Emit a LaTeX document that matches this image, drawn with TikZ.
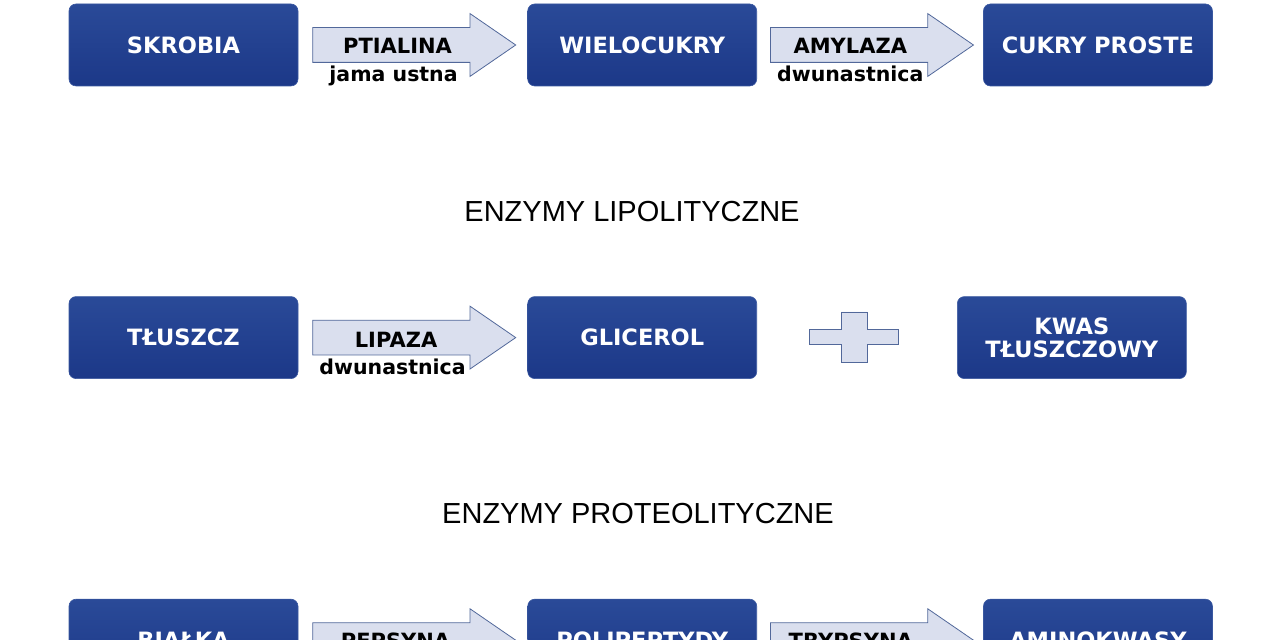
\documentclass[tikz,border=0pt]{standalone}
\usepackage{fontspec}
\setmainfont{Liberation Sans}
\newfontfamily\boxfont{DejaVu Sans}
\usetikzlibrary{positioning,shapes.arrows}
\definecolor{boxtop}{RGB}{42,74,152}
\definecolor{boxbot}{RGB}{28,56,136}
\definecolor{boxedge}{RGB}{58,88,160}
\definecolor{arrowfill}{RGB}{218,223,238}
\definecolor{arrowedge}{RGB}{82,104,154}

\tikzset{
  substrate/.style={rounded corners=7pt, draw=boxedge, line width=0.6pt,
    top color=boxtop, bottom color=boxbot, minimum width=229pt, minimum height=82pt,
    text=white, align=center, font=\boxfont\bfseries\fontsize{22.5}{23}\selectfont},
  flow/.style={single arrow, draw=arrowedge, fill=arrowfill, line width=0.8pt,
    text height=0pt, text depth=0pt, inner xsep=0pt, inner ysep=17pt,
    minimum height=203pt, minimum width=62pt,
    single arrow head extend=14pt, single arrow tip angle=69},
  enzyme/.style={font=\boxfont\bfseries\fontsize{21}{22}\selectfont, inner sep=0pt},
  place/.style={font=\boxfont\bfseries\fontsize{20.5}{22}\selectfont, inner sep=0pt},
  heading/.style={font=\fontsize{29}{32}\selectfont}
}

\begin{document}
\begin{tikzpicture}[x=1pt, y=1pt]
    \clip (0,0) rectangle (1280,640);
    % Row 1: carbohydrates
    \node[substrate] (skrobia) at (183.5,595) {SKROBIA};
    \node[flow, right=14pt of skrobia] (ptialina) {};
    \node[substrate, right=11pt of ptialina] (wielocukry) {WIELOCUKRY};
    \node[flow, right=13pt of wielocukry] (amylaza) {};
    \node[substrate, right=9pt of amylaza] (cukry) {CUKRY PROSTE};
    \node[enzyme] at ([xshift=-4pt, yshift=-1pt]ptialina.center) {PTIALINA};
    \node[place] at ([xshift=-8pt, yshift=-31pt]ptialina.center) {jama ustna};
    \node[enzyme] at ([xshift=-9pt, yshift=-1pt]amylaza.center) {AMYLAZA};
    \node[place] at ([xshift=-9pt, yshift=-29pt]amylaza.center) {dwunastnica};
    % Row 2: fats
    \node[heading] (lipo) at (632,428) {ENZYMY LIPOLITYCZNE};
    \node[substrate, below=210pt of skrobia] (tluszcz) {TŁUSZCZ};
    \node[flow, right=14pt of tluszcz] (lipaza) {};
    \node[substrate, right=11pt of lipaza] (glicerol) {GLICEROL};
    \node[substrate, right=200pt of glicerol] (kwas) {KWAS\\TŁUSZCZOWY};
    \node[enzyme] at ([xshift=-5.5pt, yshift=-2pt]lipaza.center) {LIPAZA};
    \node[place] at ([xshift=-9pt, yshift=-29pt]lipaza.center) {dwunastnica};
    % Plus sign
    \draw[draw=arrowedge, fill=arrowfill, line width=0.8pt, shift={(854,303)}]
        (-13,25) -- (13,25) -- (13,7.5) -- (44.5,7.5) -- (44.5,-7.5) -- (13,-7.5)
        -- (13,-25) -- (-13,-25) -- (-13,-7.5) -- (-44.5,-7.5) -- (-44.5,7.5)
        -- (-13,7.5) -- cycle;
    % Row 3: proteins
    \node[heading] (proteo) at (638,126) {ENZYMY PROTEOLITYCZNE};
    \node[substrate, below=220pt of tluszcz] (bialka) {BIAŁKA};
    \node[flow, right=14pt of bialka] (pepsyna) {};
    \node[substrate, right=11pt of pepsyna] (polipeptydy) {POLIPEPTYDY};
    \node[flow, right=13pt of polipeptydy] (trypsyna) {};
    \node[substrate, right=9pt of trypsyna] (aminokwasy) {AMINOKWASY};
    \node[enzyme] at ([xshift=-6pt, yshift=-1pt]pepsyna.center) {PEPSYNA};
    \node[enzyme] at ([xshift=-8.5pt, yshift=-1pt]trypsyna.center) {TRYPSYNA};
\end{tikzpicture}
\end{document}
